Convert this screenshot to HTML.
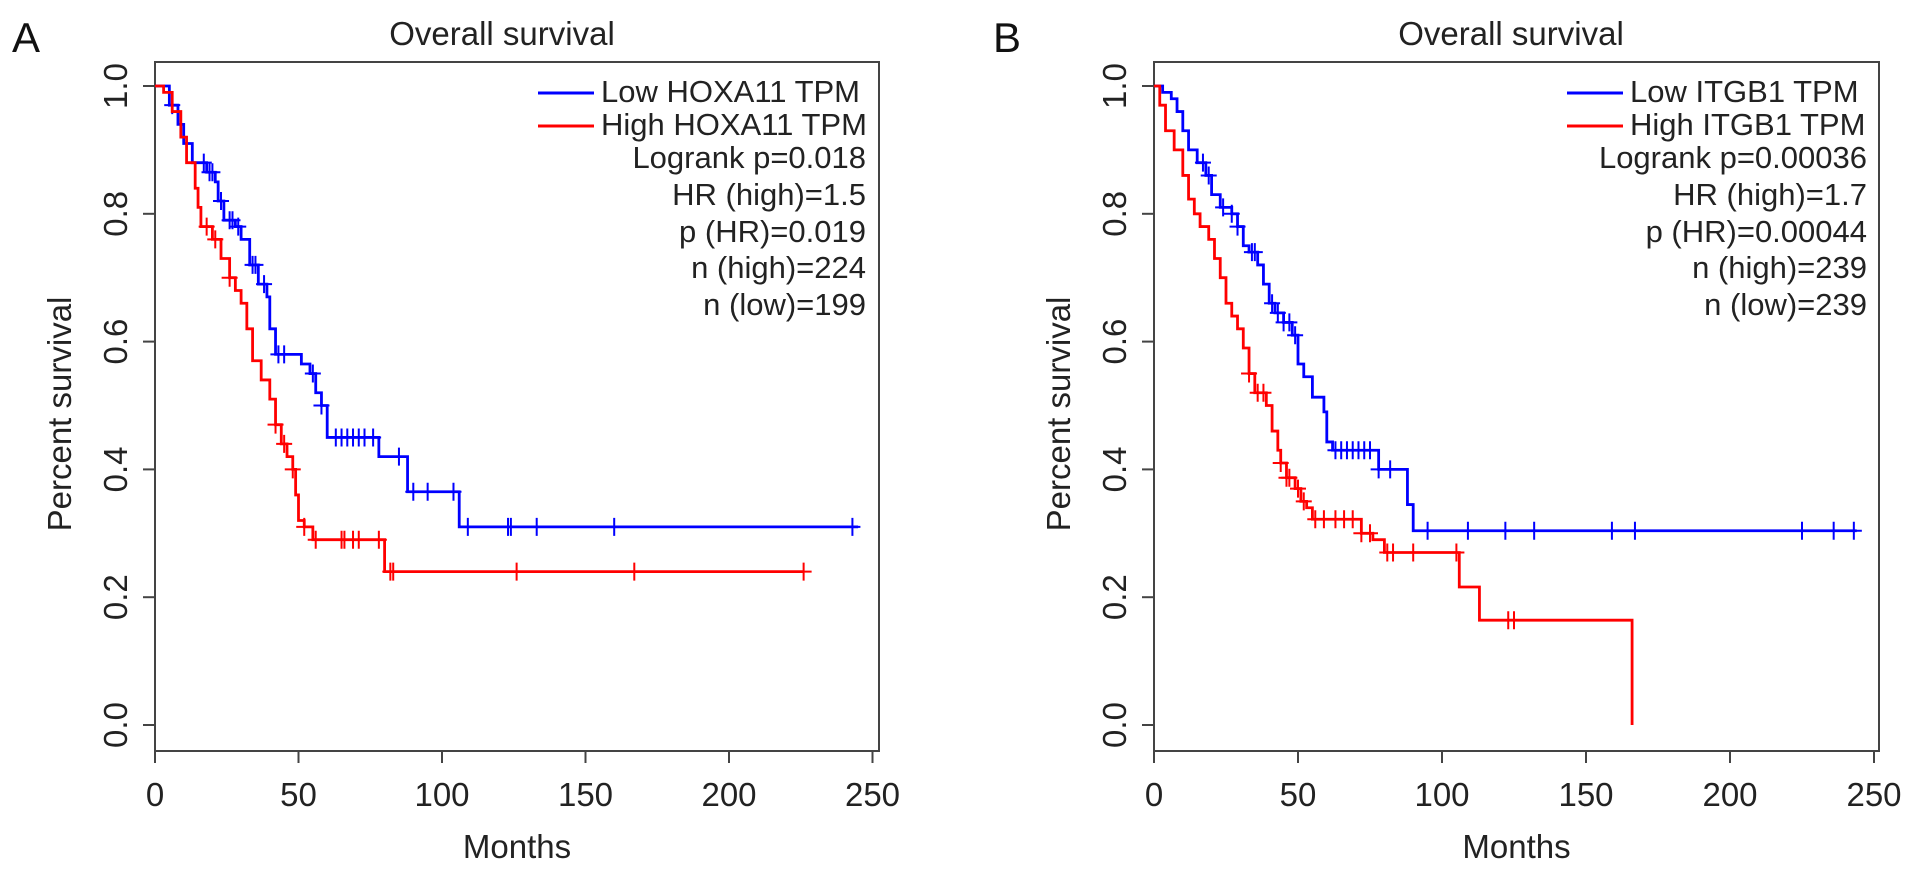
<!DOCTYPE html>
<html><head><meta charset="utf-8">
<style>
html,body{margin:0;padding:0;background:#fff;}
svg{display:block;font-family:"Liberation Sans",Arial,sans-serif;}
</style></head>
<body>
<svg id="chart" width="1913" height="872" viewBox="0 0 1913 872" xmlns="http://www.w3.org/2000/svg"></svg>
<script>
// Panel A data (HOXA11)
const aLowTimes=[0,5,8,10,13,18,21,22,24,28,30,33,36,39,40,42,51,54,56,58,60,78,88,106];
const aLowSurv =[1,0.97,0.94,0.91,0.88,0.865,0.85,0.82,0.79,0.78,0.76,0.72,0.69,0.67,0.62,0.58,0.565,0.55,0.52,0.50,0.45,0.42,0.365,0.31];
const aLowEnd=245;
const aLowCens=[6,17,19,20,23,26,27,29,34,35,38,43,45,55,58,63,65,67,69,71,73,76,85,90,95,104,109,123,124,133,160,243];
const aHighTimes=[0,3,6,9,11,14,15,16,20,23,26,28,30,32,34,37,40,42,44,46,48,49,50,52,55,80];
const aHighSurv =[1,0.99,0.96,0.92,0.88,0.84,0.81,0.78,0.76,0.73,0.70,0.68,0.66,0.62,0.57,0.54,0.51,0.47,0.44,0.42,0.40,0.36,0.32,0.31,0.29,0.24];
const aHighEnd=226;
const aHighCens=[18,21,26,42,45,48,52,56,65,66,69,71,78,82,83,126,167,226];
const aLegend=["Low HOXA11 TPM","High HOXA11 TPM","Logrank p=0.018","HR (high)=1.5","p (HR)=0.019","n (high)=224","n (low)=199"];
// Panel B data (ITGB1)
const bLowTimes=[0,3,6,8,10,12,15,18,20,23,27,29,31,33,36,38,40,42,45,48,50,52,55,59,60,62,78,88,90];
const bLowSurv =[1,0.99,0.98,0.96,0.93,0.90,0.88,0.86,0.83,0.81,0.80,0.78,0.75,0.74,0.72,0.69,0.66,0.645,0.63,0.61,0.565,0.545,0.513,0.49,0.443,0.43,0.40,0.345,0.304];
const bLowEnd=244;
const bLowCens=[17,19,24,27,29,34,35,41,43,45,47,49,63,65,67,69,71,73,75,78,82,95,109,122,132,159,167,225,236,243];
const bHighTimes=[0,2,4,7,10,12,14,16,19,21,23,25,27,29,31,33,35,39,41,43,44,46,49,51,53,55,72,76,80,106,113,166];
const bHighSurv =[1,0.97,0.93,0.90,0.86,0.823,0.80,0.78,0.76,0.73,0.70,0.66,0.64,0.62,0.59,0.55,0.52,0.50,0.46,0.43,0.41,0.387,0.37,0.35,0.34,0.322,0.30,0.29,0.27,0.216,0.164,0];
const bHighEnd=166;
const bHighCens=[33,36,38,44,46,47,50,52,56,59,63,66,69,72,75,81,83,90,105,123,125];
const bLegend=["Low ITGB1 TPM","High ITGB1 TPM","Logrank p=0.00036","HR (high)=1.7","p (HR)=0.00044","n (high)=239","n (low)=239"];
const xTicks=[0,50,100,150,200,250];
const yTicks=[0,0.2,0.4,0.6,0.8,1.0];

const NS="http://www.w3.org/2000/svg";
const svg=document.getElementById('chart');
function mk(tag,attrs,parent){const e=document.createElementNS(NS,tag);for(const k in attrs)e.setAttribute(k,attrs[k]);(parent||svg).appendChild(e);return e;}
function txt(s,attrs,parent){const e=mk('text',attrs,parent);e.textContent=s;return e;}

function survAt(times,surv,t){let v=surv[0];for(let i=0;i<times.length;i++){if(times[i]<=t)v=surv[i];}return v;}

function panel(cfg){
  const g=mk('g',{});
  
  
  const L=cfg.left,R=cfg.right,T=62,B=751;
  const X=m=>L+m*cfg.pxPerMonth;
  const Y=s=>725-s*639;
  const FS=33, LFS=31;
  const letter=txt(cfg.letter,{x:cfg.letterX,y:52,'font-size':42,fill:'#111'},g);
  
  const title=txt('Overall survival',{x:cfg.titleX,y:45,'font-size':FS,'text-anchor':'middle',fill:'#222'},g);
  
  const box=mk('rect',{x:L,y:T,width:R-L,height:B-T,fill:'none',stroke:'#444','stroke-width':2},g);
  
  xTicks.forEach(v=>{
    const tk=mk('line',{x1:X(v),x2:X(v),y1:B,y2:B+12,stroke:'#444','stroke-width':2},g);
    
    const lb=txt(String(v),{x:X(v),y:806,'font-size':FS,'text-anchor':'middle',fill:'#222'},g);
    
  });
  yTicks.forEach(v=>{
    const tk=mk('line',{x1:L-12,x2:L,y1:Y(v),y2:Y(v),stroke:'#444','stroke-width':2},g);
    
    const lb=txt(v.toFixed(1),{x:0,y:0,'font-size':FS,'text-anchor':'middle',fill:'#222',transform:`translate(${L-28},${Y(v)}) rotate(-90)`},g);
    
  });
  const xl=txt('Months',{x:(L+R)/2,y:858,'font-size':FS,'text-anchor':'middle',fill:'#222'},g);
  
  const yl=txt('Percent survival',{x:0,y:0,'font-size':FS,'text-anchor':'middle',fill:'#222',transform:`translate(${L-84},414) rotate(-90)`},g);
  
  cfg.series.forEach(s=>{
    let d=`M${X(s.times[0])},${Y(s.surv[0])}`;
    for(let i=1;i<s.times.length;i++){d+=` H${X(s.times[i])} V${Y(s.surv[i])}`;}
    d+=` H${X(s.end)}`;
    const p=mk('path',{d:d,fill:'none',stroke:s.color,'stroke-width':2.8},g);
    
    s.cens.forEach(c=>{
      const cx=X(c),cy=Y(survAt(s.times,s.surv,c));
      const m=mk('path',{d:`M${cx-8},${cy} H${cx+8} M${cx},${cy-9} V${cy+9}`,stroke:s.color,'stroke-width':2,fill:'none'},g);
      
    });
  });
  const lg=mk('g',{},g);
  
  const rows=[102,135,168,205,242,278,315];
  cfg.legend.forEach((t,i)=>{
    if(i<2){
      const ln=mk('line',{x1:cfg.lineX1,x2:cfg.lineX2,y1:rows[i]-9,y2:rows[i]-9,stroke:i==0?'#0000ff':'#ff0000','stroke-width':3},lg);
      
      const e=txt(t,{x:cfg.lineX2+7,y:rows[i],'font-size':LFS,fill:'#222'},lg);
      
    } else {
      const e=txt(t,{x:cfg.textRight,y:rows[i],'font-size':LFS,'text-anchor':'end',fill:'#222'},lg);
      
    }
  });
}
panel({name:'panel-a',letter:'A',letterX:12,titleX:502,left:155,right:879,pxPerMonth:2.87,
  lineX1:538,lineX2:594,textRight:866,legend:aLegend,
  series:[{name:'low-hoxa11',color:'#0000ff',times:aLowTimes,surv:aLowSurv,end:aLowEnd,cens:aLowCens},
          {name:'high-hoxa11',color:'#ff0000',times:aHighTimes,surv:aHighSurv,end:aHighEnd,cens:aHighCens}]});
panel({name:'panel-b',letter:'B',letterX:993,titleX:1511,left:1154,right:1879,pxPerMonth:2.88,
  lineX1:1567,lineX2:1623,textRight:1867,legend:bLegend,
  series:[{name:'low-itgb1',color:'#0000ff',times:bLowTimes,surv:bLowSurv,end:bLowEnd,cens:bLowCens},
          {name:'high-itgb1',color:'#ff0000',times:bHighTimes,surv:bHighSurv,end:bHighEnd,cens:bHighCens}]});
</script>
</body></html>
